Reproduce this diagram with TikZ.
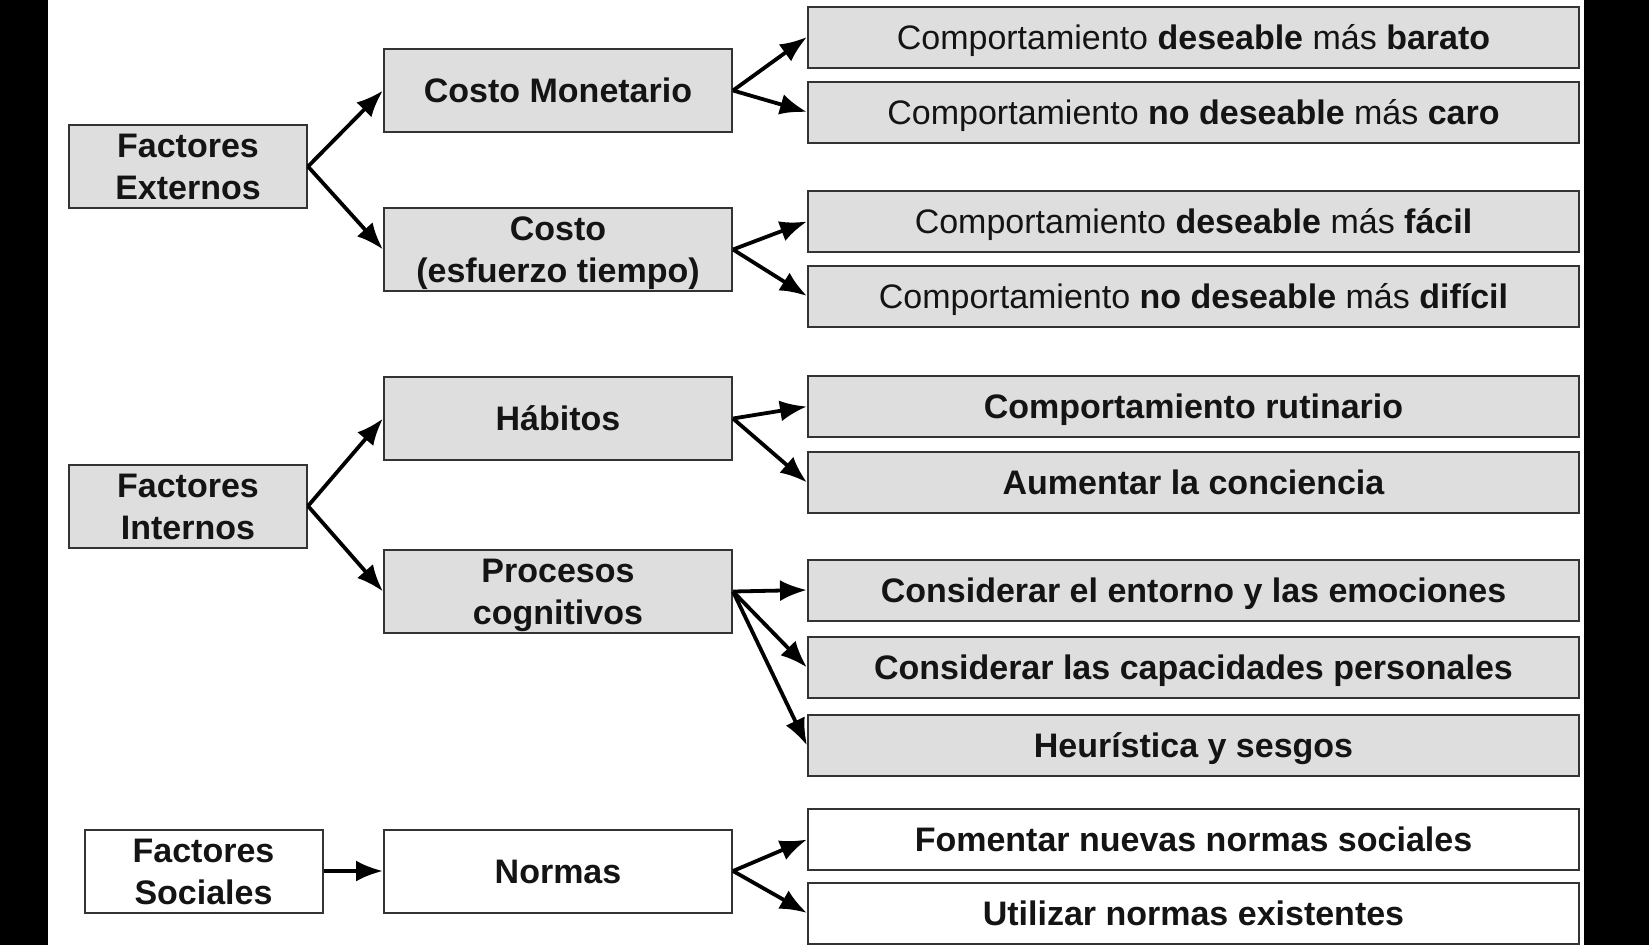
\documentclass[tikz,border=0pt]{standalone}
\usepackage{fontspec}
\setmainfont{Liberation Sans}
\usetikzlibrary{arrows.meta}
\definecolor{boxfill}{HTML}{DEDEDE}
\definecolor{boxline}{HTML}{333333}
\begin{document}
\begin{tikzpicture}[x=1pt,y=-1pt,
  base/.style={draw=boxline, line width=2pt, inner sep=0pt, align=center, text=black!92, text depth=0pt},
  one/.style={text height=24.3pt},
  two/.style={text height=66.3pt},
  bf/.style={font=\fontsize{34}{42}\selectfont\bfseries},
  rg/.style={font=\fontsize{34}{42}\selectfont},
  leftbox/.style={base, bf, two, fill=boxfill, minimum width=238pt, minimum height=83pt},
  midbox/.style={base, bf, fill=boxfill, minimum width=348pt, minimum height=83pt},
  rightbox/.style={base, one, fill=boxfill, minimum width=771pt, minimum height=61pt},
  arr/.style={line width=3.8pt, -{Latex[length=27pt,width=21pt]}}
]
\useasboundingbox (0,0) rectangle (1649,945);
\fill[white] (0,0) rectangle (1649,945);
\fill[black] (0,0) rectangle (48,945);
\fill[black] (1584,0) rectangle (1649,945);

% left column
\node[leftbox] (FE) at (188,166.5) {Factores\\Externos};
\node[leftbox] (FI) at (188,506) {Factores\\Internos};
\node[leftbox, fill=white] (FS) at (203.5,871) {Factores\\Sociales};

% middle column
\node[midbox, one] (CM) at (558,90.5) {Costo Monetario};
\node[midbox, two] (CT) at (558,249.5) {Costo\\(esfuerzo tiempo)};
\node[midbox, one] (H) at (558,418.5) {Hábitos};
\node[midbox, two] (PC) at (558,591.5) {Procesos\\cognitivos};
\node[midbox, one, fill=white] (N) at (558,871) {Normas};

% right column
\node[rightbox, rg] (R1) at (1193.5,37) {Comportamiento \textbf{deseable} más \textbf{barato}};
\node[rightbox, rg] (R2) at (1193.5,112) {Comportamiento \textbf{no deseable} más \textbf{caro}};
\node[rightbox, rg] (R3) at (1193.5,221.5) {Comportamiento \textbf{deseable} más \textbf{fácil}};
\node[rightbox, rg] (R4) at (1193.5,296) {Comportamiento \textbf{no deseable} más \textbf{difícil}};
\node[rightbox, bf] (R5) at (1193.5,406.5) {Comportamiento rutinario};
\node[rightbox, bf] (R6) at (1193.5,482.5) {Aumentar la conciencia};
\node[rightbox, bf] (R7) at (1193.5,590) {Considerar el entorno y las emociones};
\node[rightbox, bf] (R8) at (1193.5,667.5) {Considerar las capacidades personales};
\node[rightbox, bf] (R9) at (1193.5,745.5) {Heurística y sesgos};
\node[rightbox, bf, fill=white] (R10) at (1193.5,839.5) {Fomentar nuevas normas sociales};
\node[rightbox, bf, fill=white] (R11) at (1193.5,913) {Utilizar normas existentes};

% connectors
\draw[arr] (FE.east) -- (CM.west);
\draw[arr] (FE.east) -- (CT.west);
\draw[arr] (FI.east) -- (H.west);
\draw[arr] (FI.east) -- (PC.west);
\draw[arr] (FS.east) -- (N.west);

\draw[arr] (CM.east) -- (R1.west);
\draw[arr] (CM.east) -- (R2.west);
\draw[arr] (CT.east) -- (R3.west);
\draw[arr] (CT.east) -- (R4.west);
\draw[arr] (H.east) -- (R5.west);
\draw[arr] (H.east) -- (R6.west);
\draw[arr] (PC.east) -- (R7.west);
\draw[arr] (PC.east) -- (R8.west);
\draw[arr] (PC.east) -- (R9.west);
\draw[arr] (N.east) -- (R10.west);
\draw[arr] (N.east) -- (R11.west);
\end{tikzpicture}
\end{document}
